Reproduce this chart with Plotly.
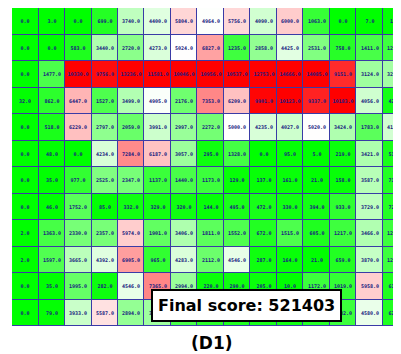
import plotly.graph_objects as go

# cell values, one list per row (top to bottom); last column is only partly visible
r00 = [0.0, 3.0, 0.0, 699.0, 3740.0, 4400.0, 5804.0, 4964.0, 5756.0, 4090.0, 6000.0, 1063.0, 0.0, 7.0, 10.0]
r01 = [0.0, 0.0, 583.0, 3440.0, 2720.0, 4273.0, 5024.0, 6827.0, 1235.0, 2858.0, 4425.0, 2531.0, 758.0, 1411.0, 1234.0]
r02 = [0.0, 1477.0, 10330.0, 9756.0, 13236.0, 11581.0, 10046.0, 10956.0, 10537.0, 12753.0, 14666.0, 14085.0, 9151.0, 3124.0, 3210.0]
r03 = [32.0, 862.0, 6447.0, 1527.0, 3499.0, 4905.0, 2176.0, 7353.0, 6209.0, 9901.0, 10123.0, 9337.0, 10183.0, 4056.0, 428.0]
r04 = [0.0, 518.0, 6229.0, 2797.0, 2059.0, 3991.0, 2997.0, 2272.0, 5000.0, 4235.0, 4027.0, 5020.0, 3424.0, 1783.0, 4120.0]
r05 = [0.0, 48.0, 0.0, 4234.0, 7284.0, 6187.0, 3057.0, 295.0, 1328.0, 0.0, 95.0, 5.0, 219.0, 3421.0, 512.0]
r06 = [0.0, 35.0, 977.0, 2525.0, 2347.0, 1137.0, 1440.0, 1173.0, 129.0, 137.0, 161.0, 21.0, 158.0, 3587.0, 712.0]
r07 = [0.0, 46.0, 1752.0, 85.0, 332.0, 329.0, 320.0, 144.0, 495.0, 472.0, 330.0, 394.0, 933.0, 3729.0, 725.0]
r08 = [2.0, 1363.0, 2330.0, 2357.0, 5974.0, 1901.0, 3406.0, 1811.0, 1552.0, 672.0, 1515.0, 605.0, 1217.0, 3466.0, 1210.0]
r09 = [2.0, 1597.0, 3665.0, 4392.0, 6905.0, 965.0, 4283.0, 2112.0, 4546.0, 287.0, 164.0, 21.0, 659.0, 3870.0, 1220.0]
r10 = [0.0, 35.0, 1995.0, 282.0, 4546.0, 7365.0, 2994.0, 220.0, 290.0, 205.0, 10.0, 1172.0, 1019.0, 5958.0, 610.0]
r11 = [0.0, 79.0, 3933.0, 5587.0, 2894.0, 3120.0, 1450.0, 820.0, 640.0, 510.0, 380.0, 760.0, 1182.0, 4580.0, 620.0]

rows = [r00, r01, r02, r03, r04, r05, r06, r07, r08, r09, r10, r11]
score_text = 'Final score: 521403'
panel_label = '(D1)'

fig = go.Figure(go.Heatmap(
    z=rows,
    zmin=0, zmax=10000,
    colorscale=[[0, '#00ff00'], [0.5, '#ffffff'], [1, '#ff0000']],
    showscale=False,
    xgap=1, ygap=1,
    texttemplate='%{z:.1f}',
    textfont={'size': 5, 'color': '#1a1a80', 'family': 'DejaVu Sans Mono', 'weight': 'bold'},
    hoverinfo='skip',
))

# page body has an 8px margin, so the figure is sized to fit inside the window
fig.update_layout(
    width=393, height=346,
    margin={'l': 4, 'r': 0, 't': 0, 'b': 28},
    paper_bgcolor='white',
    plot_bgcolor='#3a3aa6',
    xaxis={'range': [-0.5, 14.18], 'visible': False, 'showgrid': False, 'zeroline': False},
    yaxis={'range': [11.5, -0.5], 'visible': False, 'showgrid': False, 'zeroline': False},
    annotations=[
        dict(text='<b>' + score_text + '</b>', xref='paper', yref='paper', x=0.604, y=0.065,
             xanchor='center', yanchor='middle', showarrow=False,
             bgcolor='white', bordercolor='black', borderwidth=2, borderpad=5,
             font={'size': 16, 'color': 'black', 'family': 'DejaVu Sans'}),
        dict(text='<b>' + panel_label + '</b>', xref='paper', yref='paper', x=0.514, y=-0.053,
             xanchor='center', yanchor='middle', showarrow=False,
             font={'size': 17, 'color': 'black', 'family': 'DejaVu Sans'}),
    ],
)

fig.write_html('out.html')
